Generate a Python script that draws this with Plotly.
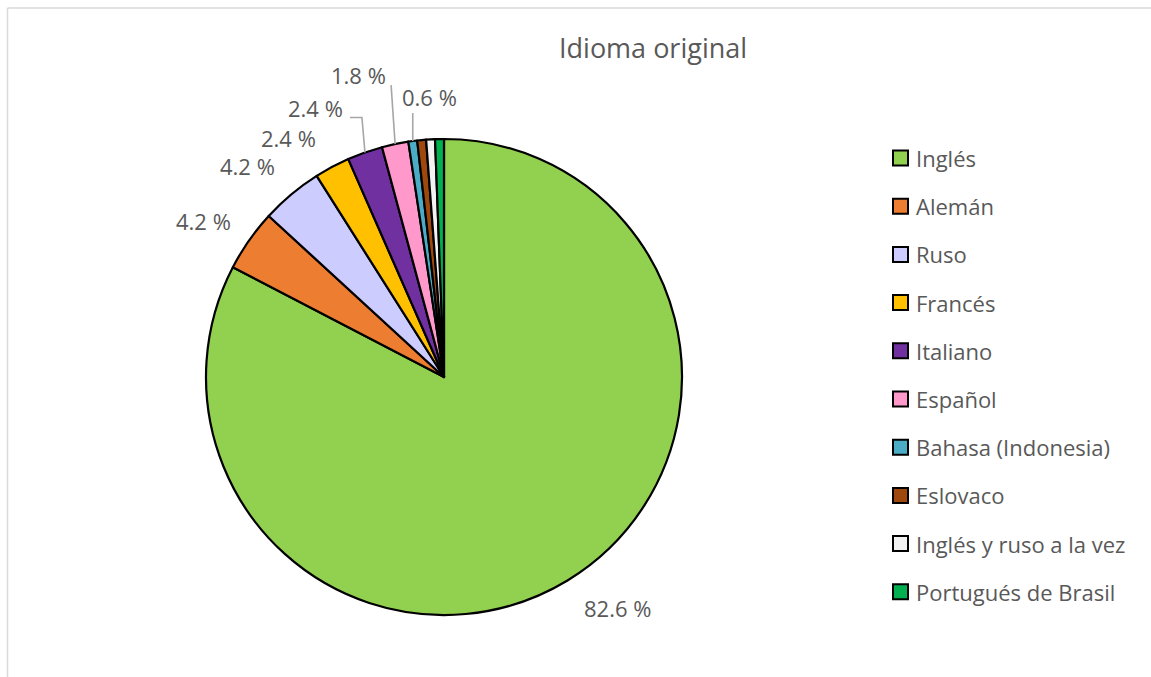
import math
import plotly.graph_objects as go

# ---- data ----
categories = ["Inglés", "Alemán", "Ruso", "Francés", "Italiano", "Español",
              "Bahasa (Indonesia)", "Eslovaco", "Inglés y ruso a la vez", "Portugués de Brasil"]
counts = [138, 7, 7, 4, 4, 3, 1, 1, 1, 1]
colors = ["#92D050", "#ED7D31", "#CCCCFF", "#FFC000", "#7030A0", "#FF99CC",
          "#4BACC6", "#9E480E", "#F2F2F2", "#00B050"]
show_label = [True, True, True, True, True, True, True, False, False, False]
title_text = "Idioma original"

# ---- layout constants (pixels) ----
W, H = 1151, 677
CX, CY, R = 444, 377, 238
FONT = "Open Sans"
TXT = "#595959"

def px(x):
    return x / W

def py(y):
    return 1 - y / H

fig = go.Figure()
fig.add_trace(go.Pie(
    labels=categories, values=counts, sort=False, direction="clockwise", rotation=0,
    marker=dict(colors=colors, line=dict(color="black", width=2.2)),
    textinfo="none", hoverinfo="label+percent", showlegend=False,
    domain=dict(x=[px(CX - R), px(CX + R)], y=[py(CY + R), py(CY - R)]),
))

total = sum(counts)
# label styling: (radial factor, text nudge x, nudge y, leader path offsets relative to edge or None)
label_style = [
    (1.21, 24, -15, None),
    (1.21, -5, 9, None),
    (1.21, -12, 10, None),
    (1.21, -20, 15, None),
    (1.0, -49, -45, [(-3, -35), (-15, -35)]),
    (1.0, -37, -69, [(-4, -59)]),
    (1.0, 17, -44, [(0, -28)]),
    None, None, None,
]
annotations = []
shapes = []
cum = 0
for i, v in enumerate(counts):
    frac = v / total
    mid = (cum + frac / 2) * 2 * math.pi
    cum += frac
    if not show_label[i]:
        continue
    fac, nx, ny, leader = label_style[i]
    x = CX + R * fac * math.sin(mid) + nx
    y = CY - R * fac * math.cos(mid) + ny
    text = f"{100 * frac:.1f} %"
    annotations.append(dict(x=px(x), y=py(y), xref="paper", yref="paper", text=text,
                            showarrow=False, font=dict(family=FONT, size=22, color=TXT),
                            xanchor="center", yanchor="middle"))
    if leader is not None:
        ex = CX + R * math.sin(mid)
        ey = CY - R * math.cos(mid)
        pts = [(ex, ey)] + [(ex + dx, ey + dy) for dx, dy in leader]
        path = "M " + " L ".join(f"{px(a)},{py(b)}" for a, b in pts)
        shapes.append(dict(type="path", xref="paper", yref="paper", path=path,
                           line=dict(color="#A6A6A6", width=1.6)))

# title
annotations.append(dict(x=px(653), y=py(48), xref="paper", yref="paper", text=title_text,
                        showarrow=False, font=dict(family=FONT, size=27, color=TXT),
                        xanchor="center", yanchor="middle"))

# manual legend
LEG_X, LEG_Y0, LEG_DY, SYM = 893, 158, 48.2, 15
for i, (cat, col) in enumerate(zip(categories, colors)):
    yc = LEG_Y0 + LEG_DY * i
    shapes.append(dict(type="rect", xref="paper", yref="paper",
                       x0=px(LEG_X), x1=px(LEG_X + SYM), y0=py(yc + SYM / 2), y1=py(yc - SYM / 2),
                       fillcolor=col, line=dict(color="black", width=2)))
    annotations.append(dict(x=px(LEG_X + SYM + 6), y=py(yc), xref="paper", yref="paper", text=cat,
                            showarrow=False, font=dict(family=FONT, size=22, color=TXT),
                            xanchor="left", yanchor="middle"))

# chart frame
shapes.append(dict(type="line", xref="paper", yref="paper", x0=px(7.5), x1=px(7.5), y0=0, y1=py(8),
                   line=dict(color="#D9D9D9", width=1.5)))
shapes.append(dict(type="line", xref="paper", yref="paper", x0=px(7.5), x1=1, y0=py(8), y1=py(8),
                   line=dict(color="#D9D9D9", width=1.5)))

fig.update_layout(width=W, height=H, margin=dict(l=0, r=0, t=0, b=0),
                  paper_bgcolor="white", plot_bgcolor="white",
                  annotations=annotations, shapes=shapes, showlegend=False)

fig.write_html("out.html")
